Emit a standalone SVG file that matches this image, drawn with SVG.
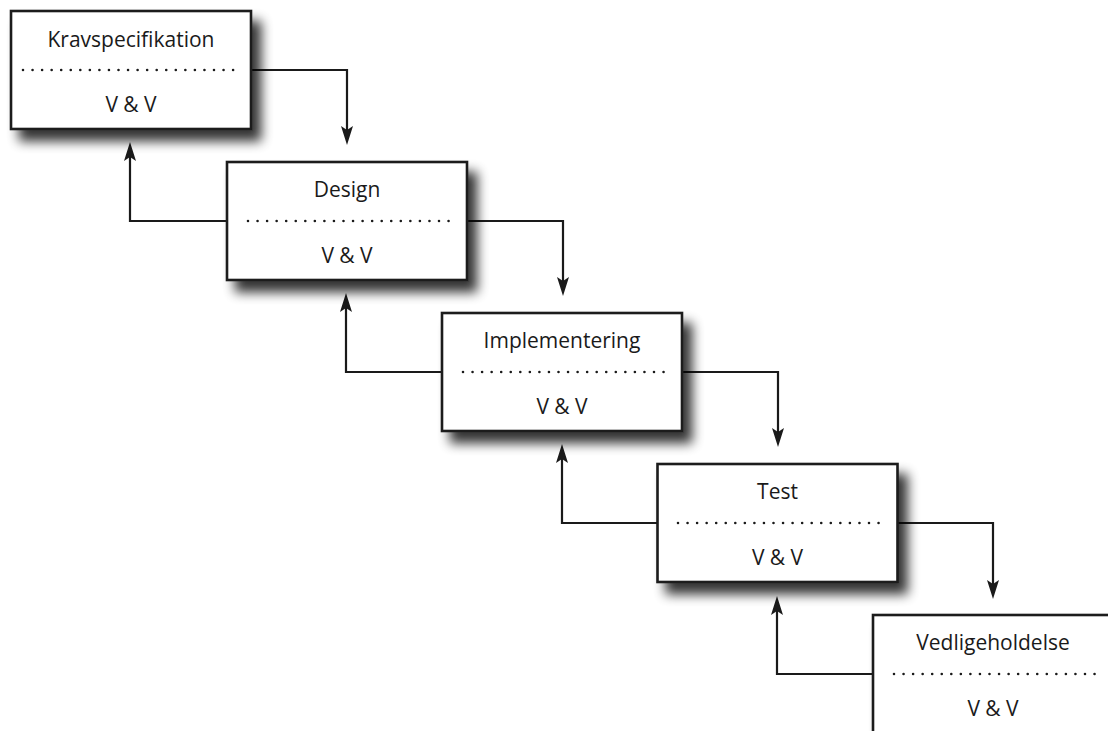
<svg xmlns="http://www.w3.org/2000/svg" width="1108" height="731" viewBox="0 0 1108 731">
<defs>
<filter id="sh" x="-20%" y="-30%" width="150%" height="180%">
<feGaussianBlur in="SourceAlpha" stdDeviation="6"/>
<feOffset dx="9" dy="11" result="b"/>
<feComponentTransfer><feFuncA type="linear" slope="0.8"/></feComponentTransfer>
<feMerge><feMergeNode/><feMergeNode in="SourceGraphic"/></feMerge>
</filter>
<marker id="ah" markerUnits="userSpaceOnUse" markerWidth="24" markerHeight="24" viewBox="-12 -12 24 24" refX="0" refY="0" orient="auto">
<path d="M10,0 L-9,-6 L-5,0 L-9,6 Z" fill="#1a1a1a"/>
</marker>
<style>
.box{fill:#fff;stroke:#1a1a1a;stroke-width:2.6}
.dot{stroke:#1a1a1a;stroke-width:2.6;stroke-linecap:round;stroke-dasharray:0 9.55;fill:none}
.t{font-family:"Open Sans","Liberation Sans",sans-serif;font-size:21px;fill:#1a1a1a;text-anchor:middle}
.c{fill:none;stroke:#1a1a1a;stroke-width:2.2;marker-end:url(#ah)}
</style>
</defs>
<g id="connectors">
<path class="c" d="M250,70 H347 V135"/>
<path class="c" d="M227,221 H130 V152"/>
<path class="c" d="M466,221 H563 V286"/>
<path class="c" d="M443,372 H346 V303"/>
<path class="c" d="M682,372 H778 V437"/>
<path class="c" d="M658,523 H562 V454"/>
<path class="c" d="M897,523 H993 V589"/>
<path class="c" d="M873,674 H777 V606"/>
</g>
<g id="n1">
<rect class="box" x="11" y="11" width="240" height="118" filter="url(#sh)"/>
<line class="dot" x1="23" y1="70" x2="242" y2="70"/>
<text class="t" x="131" y="47">Kravspecifikation</text>
<text class="t" x="131" y="112">V &amp; V</text>
</g>
<g id="n2">
<rect class="box" x="227" y="162" width="240" height="118" filter="url(#sh)"/>
<line class="dot" x1="248" y1="221" x2="457" y2="221"/>
<text class="t" x="347" y="197">Design</text>
<text class="t" x="347" y="263">V &amp; V</text>
</g>
<g id="n3">
<rect class="box" x="442" y="313" width="240" height="118" filter="url(#sh)"/>
<line class="dot" x1="463" y1="372" x2="672" y2="372"/>
<text class="t" x="562" y="348">Implementering</text>
<text class="t" x="562" y="414">V &amp; V</text>
</g>
<g id="n4">
<rect class="box" x="657.5" y="464" width="240" height="118" filter="url(#sh)"/>
<line class="dot" x1="678" y1="523" x2="887" y2="523"/>
<text class="t" x="777.5" y="499">Test</text>
<text class="t" x="777.5" y="565">V &amp; V</text>
</g>
<g id="n5">
<rect class="box" x="873" y="615" width="240" height="118" filter="url(#sh)"/>
<line class="dot" x1="894" y1="674" x2="1103" y2="674"/>
<text class="t" x="993" y="650">Vedligeholdelse</text>
<text class="t" x="993" y="716">V &amp; V</text>
</g>
</svg>
